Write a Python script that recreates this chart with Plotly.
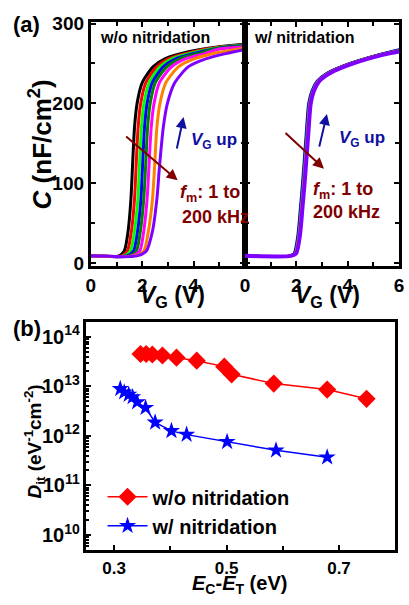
import plotly.graph_objects as go

W, H = 409, 605
FONT = "Liberation Sans, Arial, sans-serif"

# ---------------- Panel (a) data: C-V curves, w/o nitridation ----------------
CURVE_COLORS = ["#000000", "#FF0000", "#00FF00", "#0000FF", "#008000", "#FF00FF", "#FF8000", "#8000FF"]

VG_WO = [
    [0, 1.10, 1.30, 1.45, 1.56, 1.62, 1.70, 1.80, 2.00, 2.43, 2.90, 3.84, 5.0, 6.0],
    [0, 1.20, 1.42, 1.58, 1.70, 1.76, 1.84, 1.94, 2.14, 2.57, 3.03, 3.95, 5.0, 6.0],
    [0, 1.30, 1.54, 1.70, 1.83, 1.89, 1.97, 2.07, 2.27, 2.70, 3.17, 4.05, 5.0, 6.0],
    [0, 1.40, 1.66, 1.82, 1.95, 2.01, 2.09, 2.19, 2.39, 2.83, 3.32, 4.15, 5.0, 6.0],
    [0, 1.50, 1.77, 1.93, 2.06, 2.13, 2.21, 2.31, 2.51, 2.97, 3.48, 4.25, 5.0, 6.0],
    [0, 1.60, 1.90, 2.06, 2.19, 2.26, 2.35, 2.46, 2.67, 3.15, 3.70, 4.40, 5.0, 6.0],
    [0, 1.70, 2.06, 2.24, 2.40, 2.48, 2.57, 2.69, 2.92, 3.42, 4.05, 5.0, 6.0],
    [0, 1.80, 2.16, 2.40, 2.57, 2.67, 2.82, 2.98, 3.27, 3.80, 4.50, 5.2, 6.0],
]
C_WO = [
    [9, 9, 15, 40, 80, 120, 170, 200, 226, 246, 256, 265, 271, 274],
    [9, 9, 15, 40, 80, 120, 170, 200, 226, 246, 256, 264.5, 270.5, 273.5],
    [9, 9, 15, 40, 80, 120, 170, 200, 226, 246, 256, 264, 270, 273],
    [9, 9, 15, 40, 80, 120, 170, 200, 226, 246, 256, 263.5, 269.5, 272.5],
    [9, 9, 15, 40, 80, 120, 170, 200, 226, 246, 256, 263, 269, 272],
    [9, 9, 15, 40, 80, 120, 170, 200, 226, 246, 256, 262, 268, 271],
    [9, 9, 15, 40, 80, 120, 170, 200, 226, 246, 256, 264, 269.5],
    [9, 9, 15, 40, 80, 120, 170, 200, 226, 246, 256, 262, 267.5],
]

# ---------------- Panel (a) data: C-V curves, w/ nitridation ----------------
VG_W = [
    [0, 1.72, 1.92, 2.07, 2.17, 2.25, 2.32, 2.39, 2.49, 2.62, 2.82, 3.21, 4.08, 5.20, 6.0],
    [0, 1.73, 1.93, 2.08, 2.18, 2.26, 2.33, 2.40, 2.50, 2.63, 2.83, 3.22, 4.09, 5.22, 6.0],
    [0, 1.74, 1.94, 2.09, 2.19, 2.27, 2.34, 2.41, 2.51, 2.64, 2.84, 3.23, 4.10, 5.24, 6.0],
    [0, 1.70, 1.90, 2.05, 2.15, 2.23, 2.30, 2.37, 2.47, 2.60, 2.80, 3.19, 4.06, 5.20, 6.0],
    [0, 1.73, 1.93, 2.08, 2.18, 2.26, 2.33, 2.40, 2.50, 2.63, 2.83, 3.22, 4.10, 5.24, 6.0],
    [0, 1.76, 1.96, 2.11, 2.21, 2.29, 2.36, 2.43, 2.53, 2.66, 2.86, 3.26, 4.14, 5.30, 6.0],
    [0, 1.75, 1.95, 2.10, 2.20, 2.28, 2.35, 2.42, 2.52, 2.65, 2.85, 3.25, 4.13, 5.28, 6.0],
    [0, 1.79, 1.99, 2.14, 2.24, 2.32, 2.39, 2.46, 2.56, 2.69, 2.90, 3.32, 4.22, 5.40, 6.0],
]
C_W = [
    [9, 9, 12, 35, 70, 100, 130, 160, 200, 216, 228, 238, 250, 261, 267],
    [9, 9, 12, 35, 70, 100, 130, 160, 200, 216, 228, 238, 250, 261, 267],
    [9, 9, 12, 35, 70, 100, 130, 160, 200, 216, 228, 238, 250, 261, 267],
    [9, 9, 12, 35, 70, 100, 130, 160, 200, 216, 228, 238, 250, 261, 267.5],
    [9, 9, 12, 35, 70, 100, 130, 160, 200, 216, 228, 238, 250, 261, 266.5],
    [9, 9, 12, 35, 70, 100, 130, 160, 200, 216, 228, 238, 250, 261, 266],
    [9, 9, 12, 35, 70, 100, 130, 160, 200, 216, 228, 238, 250, 261, 266],
    [9, 9, 12, 35, 70, 100, 130, 160, 200, 216, 228, 238, 250, 261, 265],
]

# ---------------- Panel (b) data: Dit vs Ec-Et ----------------
E_WO = [0.347, 0.357, 0.368, 0.386, 0.411, 0.447, 0.496, 0.509, 0.584, 0.679, 0.749]
D_WO = [4.5e13, 4.5e13, 4.4e13, 4.2e13, 3.8e13, 3.3e13, 2.5e13, 1.75e13, 1.14e13, 8.6e12, 5.6e12]
E_W = [0.311, 0.318, 0.326, 0.333, 0.341, 0.356, 0.373, 0.402, 0.429, 0.501, 0.588, 0.679]
D_W = [8.9e12, 7.6e12, 6.8e12, 6.1e12, 4.8e12, 3.7e12, 1.87e12, 1.26e12, 1.06e12, 7.6e11, 5.1e11, 3.7e11]

CV_YTICKS = [0, 100, 200, 300]
CV_XTICKS_L = [0, 2, 4]
CV_XTICKS_R = [0, 2, 4, 6]
DIT_XTICKS = [0.3, 0.5, 0.7]

fig = go.Figure()

for vg, c, col in zip(VG_WO, C_WO, CURVE_COLORS):
    fig.add_trace(go.Scatter(x=vg, y=c, mode="lines", xaxis="x", yaxis="y",
                             line=dict(color=col, width=3, shape="spline", smoothing=0.7),
                             showlegend=False, hoverinfo="skip"))
for i, (vg, c, col) in enumerate(zip(VG_W, C_W, CURVE_COLORS)):
    fig.add_trace(go.Scatter(x=vg, y=c, mode="lines", xaxis="x2", yaxis="y2",
                             line=dict(color=col, width=4 if i == 7 else 2.5, shape="spline", smoothing=0.7),
                             showlegend=False, hoverinfo="skip"))

fig.add_trace(go.Scatter(x=E_WO, y=D_WO, mode="lines+markers", xaxis="x3", yaxis="y3",
                         name="w/o nitridation",
                         line=dict(color="#FF0000", width=1.5),
                         marker=dict(symbol="diamond", size=14, color="#FF0000")))
fig.add_trace(go.Scatter(x=E_W, y=D_W, mode="lines+markers", xaxis="x3", yaxis="y3",
                         name="w/ nitridation",
                         line=dict(color="#0000FF", width=1.5),
                         marker=dict(symbol="star", size=13, color="#0000FF")))

def px(x):
    return x / W

def py(y):
    return 1 - y / H

axis_common = dict(showline=True, linewidth=3, linecolor="black", mirror="ticks",
                   ticks="inside", ticklen=5, tickwidth=2, tickcolor="black",
                   showgrid=False, zeroline=False, ticklabeloverflow="allow",
                   tickfont=dict(family=FONT, size=19, color="black", weight="bold"))

top_dom = [py(265), py(14)]
fig.update_layout(
    width=W, height=H, margin=dict(l=0, r=0, t=0, b=0),
    paper_bgcolor="white", plot_bgcolor="white",
    font=dict(family=FONT, color="black"),
    xaxis=dict(domain=[px(88), px(246)], range=[0, 6], tickvals=CV_XTICKS_L, anchor="y",
               minor=dict(dtick=1, tick0=0, ticks="inside", ticklen=4, tickwidth=2, tickcolor="black"),
               **axis_common),
    yaxis=dict(domain=top_dom, range=[-3.7, 302.4], tickvals=CV_YTICKS, anchor="x",
               minor=dict(dtick=50, tick0=0, ticks="inside", ticklen=4, tickwidth=2, tickcolor="black"),
               **axis_common),
    xaxis2=dict(domain=[px(246), px(404)], range=[0, 6], tickvals=CV_XTICKS_R, anchor="y2",
                minor=dict(dtick=1, tick0=0, ticks="inside", ticklen=4, tickwidth=2, tickcolor="black"),
                **axis_common),
    yaxis2=dict(domain=top_dom, range=[-3.7, 302.4], tickvals=CV_YTICKS, anchor="x2",
                showticklabels=False,
                minor=dict(dtick=50, tick0=0, ticks="inside", ticklen=4, tickwidth=2, tickcolor="black"),
                **axis_common),
    xaxis3=dict(domain=[px(83), px(400)], range=[0.25, 0.8], tickvals=DIT_XTICKS, anchor="y3",
                minor=dict(dtick=0.1, tick0=0.3, ticks="inside", ticklen=4, tickwidth=2, tickcolor="black"),
                **{**axis_common, "mirror": True,
                   "tickfont": dict(family=FONT, size=17, color="black", weight="bold")}),
    yaxis3=dict(domain=[py(557), py(323)], type="log", range=[9.69, 14.29], dtick=1,
                exponentformat="power", anchor="x3",
                minor=dict(dtick="D1", ticks="inside", ticklen=3, tickwidth=1.5, tickcolor="black"),
                **{**axis_common, "mirror": True,
                   "tickfont": dict(family=FONT, size=16, color="black", weight="bold")}),
    legend=dict(x=px(100), y=py(482), xanchor="left", yanchor="top",
                bgcolor="rgba(0,0,0,0)", borderwidth=0,
                font=dict(family=FONT, size=20, color="black", weight="bold"),
                itemwidth=40, tracegroupgap=0),
)

DARKRED = "#800000"
NAVY = "#1010A0"

def txt(x, y, text, size, color="black", angle=0, xanchor="center"):
    fig.add_annotation(x=px(x), y=py(y), xref="paper", yref="paper", text=text, showarrow=False,
                       xanchor=xanchor, yanchor="middle", textangle=angle,
                       font=dict(family=FONT, size=size, color=color, weight="bold"))

def arrow(x0, y0, x1, y1, color):
    fig.add_annotation(x=px(x1), y=py(y1), xref="paper", yref="paper", text="",
                       showarrow=True, ax=x0 - x1, ay=y0 - y1, axref="pixel", ayref="pixel",
                       arrowhead=2, arrowsize=1.1, arrowwidth=2, arrowcolor=color)

txt(22, 17, "(a)", 22)
txt(23, 329, "(b)", 22)
txt(95, 30, "w/o nitridation", 16, xanchor="left")
txt(253, 30, "w/ nitridation", 16, xanchor="left")
txt(36, 140, "<i>C</i> (nF/cm<sup>2</sup>)", 26, angle=-90)
txt(172, 296, "<i>V</i><sub>G</sub> (V)", 23)
txt(331, 296, "<i>V</i><sub>G</sub> (V)", 23)
txt(30, 445, "<i>D</i><sub>it</sub> (eV<sup>-1</sup>cm<sup>-2</sup>)", 19, angle=-90)
txt(240, 592, "<i>E</i><sub>C</sub>-<i>E</i><sub>T</sub> (eV)", 20)

arrow(124, 132, 177, 177, DARKRED)
arrow(287, 128, 327, 165, DARKRED)
arrow(176, 145, 183, 112, NAVY)
arrow(322, 143, 330, 109, NAVY)

txt(189, 137, "<i>V</i><sub>G</sub> up", 17, NAVY, xanchor="left")
txt(340, 135, "<i>V</i><sub>G</sub> up", 17, NAVY, xanchor="left")
txt(177, 191, "<i>f</i><sub>m</sub>: 1 to", 18, DARKRED, xanchor="left")
txt(179, 215, "200 kHz", 18, DARKRED, xanchor="left")
txt(314, 187, "<i>f</i><sub>m</sub>: 1 to", 18, DARKRED, xanchor="left")
txt(314, 210, "200 kHz", 18, DARKRED, xanchor="left")

fig.write_html("out.html")
